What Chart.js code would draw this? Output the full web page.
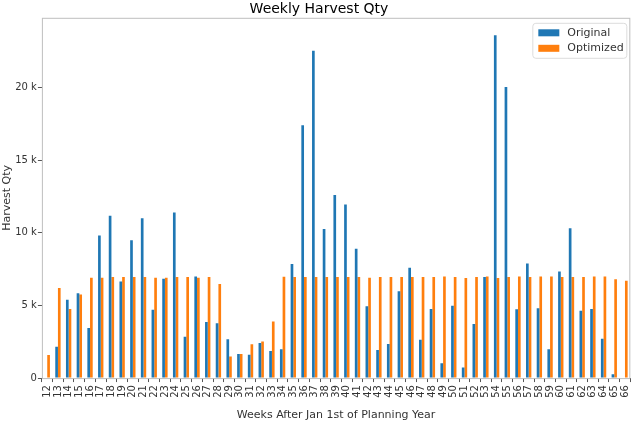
<!DOCTYPE html>
<html>
<head>
<meta charset="utf-8">
<script src="https://cdn.jsdelivr.net/npm/chart.js@4.4.1/dist/chart.umd.min.js"></script>
<style>
  html, body { margin: 0; padding: 0; background: #fff; }
  #wrap { width: 640px; height: 423px; position: relative; }
</style>
</head>
<body>
<div id="wrap"><canvas id="harvestChart"></canvas></div>
<script>
// week numbers after Jan 1st
const weeks = ['12','13','14','15','16','17','18','19','20','21','22','23','24','25','26','27','28','29','30','31',
  '32','33','34','35','36','37','38','39','40','41','42','43','44','45','46','47','48','49','50','51',
  '52','53','54','55','56','57','58','59','60','61','62','63','64','65','66'];

const original = [0, 2160, 5390, 5840, 3450, 9820, 11180, 6640, 9480, 11000, 4700, 6840, 11390, 2840, 7000, 3860,
  3770, 2680, 1660, 1610, 2410, 1860, 1980, 7860, 17400, 22540, 10270, 12600, 11950, 8900, 4950, 1930,
  2340, 5980, 7590, 2640, 4750, 1020, 4980, 730, 3730, 6950, 23600, 20030, 4730, 7890, 4800, 1980,
  7340, 10320, 4640, 4750, 2700, 270, 0];

const optimized = [1590, 6200, 4750, 5750, 6900, 6900, 6950, 6950, 6950, 6950, 6900, 6900, 6950, 6950, 6900, 6950,
  6480, 1480, 1660, 2320, 2520, 3890, 6980, 6950, 6950, 6950, 6950, 6950, 6950, 6950, 6900, 6950,
  6950, 6950, 6950, 6950, 6950, 7000, 6950, 6890, 6950, 7000, 6890, 6950, 7000, 6950, 7000, 7000,
  6950, 6950, 6950, 7000, 7000, 6800, 6700];

const yTicks = [0, 5000, 10000, 15000, 20000];

const FONT = "'DejaVu Sans', sans-serif";

// box around the plot like matplotlib spines
const framePlugin = {
  id: 'frame',
  afterDraw(chart) {
    const { ctx, chartArea: a } = chart;
    ctx.save();
    ctx.strokeStyle = '#bfbfbf';
    ctx.lineWidth = 1;
    ctx.strokeRect(a.left + 0.5, a.top + 0.5, a.right - a.left - 1, a.bottom - a.top);
    ctx.restore();
  }
};

// legend drawn inside the plot, upper right
const innerLegend = {
  id: 'innerLegend',
  afterDraw(chart) {
    const { ctx, chartArea: a } = chart;
    const x = a.right - 98, y = a.top + 5, w = 94, h = 35;
    ctx.save();
    ctx.fillStyle = 'rgba(255,255,255,0.8)';
    ctx.strokeStyle = '#dcdcdc';
    ctx.lineWidth = 1;
    ctx.beginPath();
    ctx.roundRect(x + 0.5, y + 0.5, w, h, 3);
    ctx.fill();
    ctx.stroke();
    ctx.font = '11px ' + FONT;
    ctx.textBaseline = 'middle';
    chart.data.datasets.forEach((ds, i) => {
      const ry = y + 10 + i * 15.5;
      ctx.fillStyle = ds.backgroundColor;
      ctx.fillRect(x + 6, ry - 3.5, 21, 7);
      ctx.fillStyle = '#333';
      ctx.fillText(ds.label, x + 35, ry);
    });
    ctx.restore();
  }
};

new Chart(document.getElementById('harvestChart'), {
  type: 'bar',
  data: {
    labels: weeks,
    datasets: [
      { label: 'Original', data: original, backgroundColor: '#1f77b4', categoryPercentage: 0.5, barPercentage: 1.0 },
      { label: 'Optimized', data: optimized, backgroundColor: '#ff7f0e', categoryPercentage: 0.5, barPercentage: 1.0 }
    ]
  },
  options: {
    responsive: true,
    maintainAspectRatio: false,
    animation: false,
    layout: { padding: { top: 1, right: 3, left: 1, bottom: 1 } },
    scales: {
      x: {
        grid: { display: true, drawOnChartArea: false, tickLength: 4, color: '#555' },
        border: { display: false },
        ticks: { font: { family: FONT, size: 10 }, color: '#333', minRotation: 90, maxRotation: 90, autoSkip: false, padding: 3 },
        title: { display: true, text: 'Weeks After Jan 1st of Planning Year', font: { family: FONT, size: 11 }, color: '#333', padding: { top: 8, bottom: 0 } }
      },
      y: {
        min: 0,
        max: 24800,
        afterBuildTicks(axis) { axis.ticks = yTicks.map(v => ({ value: v })); },
        grid: { display: true, drawOnChartArea: false, tickLength: 4, color: '#555' },
        border: { display: false },
        ticks: {
          font: { family: FONT, size: 10 }, color: '#333', padding: 1,
          callback: v => v === 0 ? '0' : (v / 1000) + ' k'
        },
        title: { display: true, text: 'Harvest Qty', font: { family: FONT, size: 11 }, color: '#333', padding: { top: 0, bottom: 0 } }
      }
    },
    plugins: {
      legend: { display: false },
      tooltip: { enabled: false },
      title: { display: true, text: 'Weekly Harvest Qty', font: { family: FONT, size: 14, weight: 'normal' }, color: '#000', padding: { top: 0, bottom: 0 } }
    }
  },
  plugins: [framePlugin, innerLegend]
});
</script>
</body>
</html>
